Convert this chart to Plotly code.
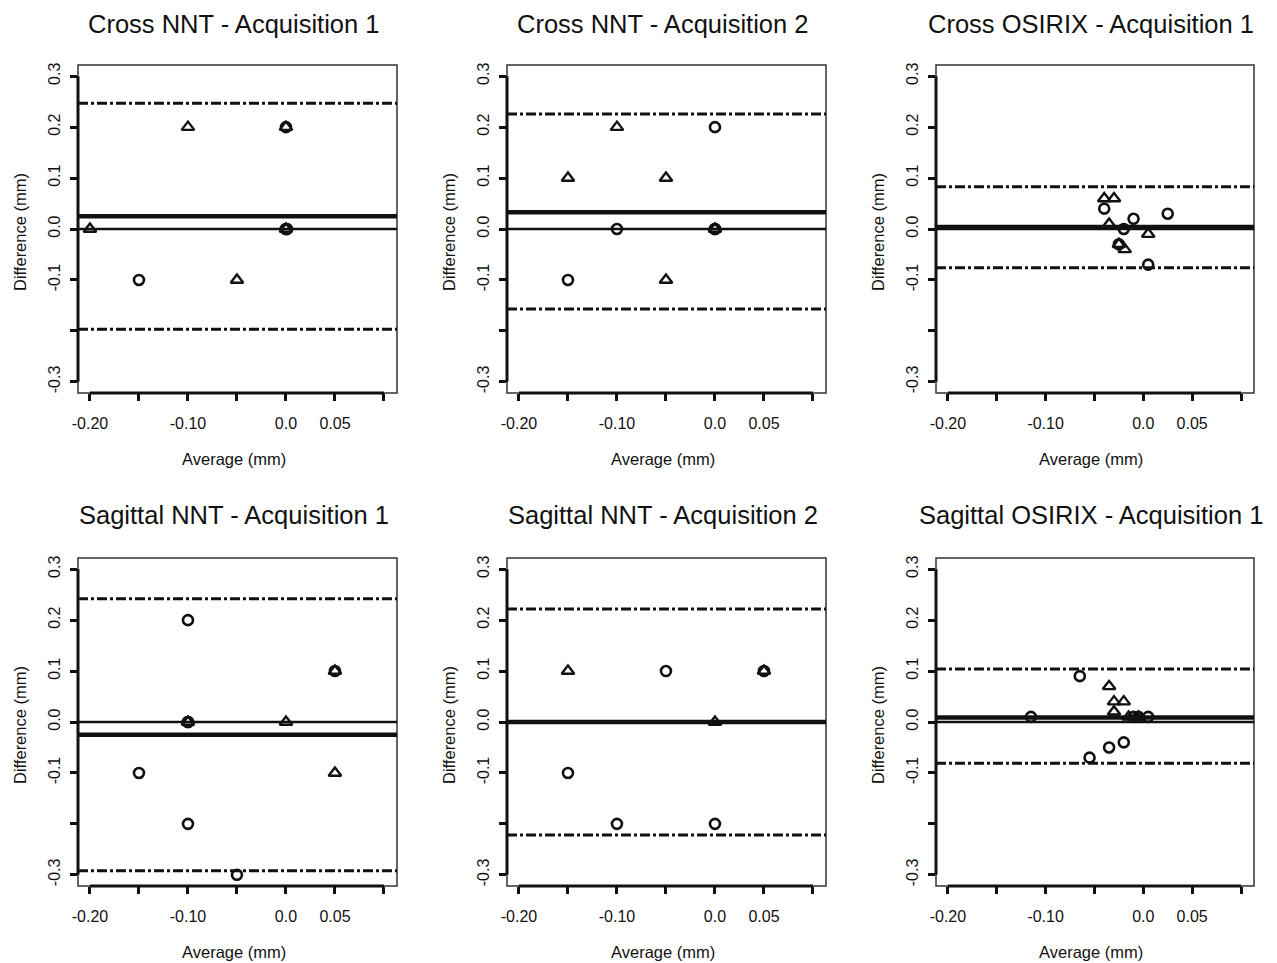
import plotly.graph_objects as go

# ---------------- data ----------------
titles = ["Cross NNT - Acquisition 1", "Cross NNT - Acquisition 2", "Cross OSIRIX - Acquisition 1",
          "Sagittal NNT - Acquisition 1", "Sagittal NNT - Acquisition 2", "Sagittal OSIRIX - Acquisition 1"]

x_tickvals = [-0.20, -0.15, -0.10, -0.05, 0.0, 0.05, 0.10]
x_ticktext = ["-0.20", "", "-0.10", "", "0.0", "0.05", ""]
y_tickvals = [0.3, 0.2, 0.1, 0.0, -0.1, -0.2, -0.3]
y_ticktext = ["0.3", "0.2", "0.1", "0.0", "-0.1", "", "-0.3"]

# circles (pch 1)
circ_x = [
    [0.0, -0.15, 0.0, 0.0, 0.001],
    [0.0, -0.10, 0.0, 0.0, -0.15],
    [-0.040, -0.020, -0.010, 0.025, -0.025, 0.005],
    [-0.10, 0.05, -0.10, -0.10, -0.15, -0.10, -0.05],
    [-0.05, 0.05, -0.15, -0.10, 0.0],
    [-0.065, -0.115, -0.010, -0.005, 0.005, -0.020, -0.035, -0.055],
]
circ_y = [
    [0.2, -0.1, 0.0, 0.0, 0.0],
    [0.2, 0.0, 0.0, 0.0, -0.1],
    [0.04, 0.0, 0.02, 0.03, -0.03, -0.07],
    [0.2, 0.1, 0.0, 0.0, -0.1, -0.2, -0.3],
    [0.1, 0.1, -0.1, -0.2, -0.2],
    [0.09, 0.01, 0.01, 0.01, 0.01, -0.04, -0.05, -0.07],
]
# triangles (pch 2)
tri_x = [
    [-0.10, 0.0, -0.20, 0.0, -0.05],
    [-0.10, -0.15, -0.05, 0.0, -0.05],
    [-0.040, -0.030, -0.035, 0.005, -0.025, -0.019],
    [0.05, -0.10, 0.0, 0.05],
    [-0.15, 0.05, 0.0],
    [-0.035, -0.030, -0.020, -0.030, -0.015, -0.005],
]
tri_y = [
    [0.2, 0.2, 0.0, 0.0, -0.1],
    [0.2, 0.1, 0.1, 0.0, -0.1],
    [0.06, 0.06, 0.01, -0.01, -0.03, -0.04],
    [0.1, 0.0, 0.0, -0.1],
    [0.1, 0.1, 0.0],
    [0.07, 0.04, 0.04, 0.02, 0.01, 0.01],
]
mean_diff = [0.025, 0.033, 0.004, -0.025, 0.0, 0.009]
upper_loa = [0.247, 0.226, 0.083, 0.242, 0.222, 0.104]
lower_loa = [-0.197, -0.157, -0.076, -0.292, -0.222, -0.081]

# ---------------- layout ----------------
OFF = 8  # page body margin of the html output
W, H = 1277 - OFF, 963 - OFF
col_px = [(78, 397), (507, 826), (936, 1254)]   # in screenshot pixels
row_px = [(65, 393), (558, 886)]
FONT = "Liberation Sans, Arial, Helvetica, sans-serif"


def px(v):
    return (v - OFF) / W


def py(v):
    return 1 - (v - OFF) / H


fig = go.Figure()
shapes = []
annotations = []

for i in range(6):
    r, c = divmod(i, 3)
    n = "" if i == 0 else str(i + 1)
    xa, ya = "x" + n, "y" + n
    x0p, x1p = col_px[c]
    t0p, b0p = row_px[r]
    xdom = [px(x0p), px(x1p)]
    ydom = [py(b0p), py(t0p)]

    axis_common = dict(showgrid=False, zeroline=False, showline=False, ticks="outside",
                       ticklen=7, tickwidth=2.5, tickcolor="#111", automargin=False,
                       tickfont=dict(family=FONT, size=16, color="#111"))
    fig.layout["xaxis" + n] = dict(domain=xdom, range=[-0.2122, 0.1133], anchor=ya,
                                   tickvals=x_tickvals, ticktext=x_ticktext,
                                   ticklabelstandoff=9, **axis_common)
    fig.layout["yaxis" + n] = dict(domain=ydom, range=[-0.322, 0.322], anchor=xa,
                                   tickvals=y_tickvals, ticktext=y_ticktext, tickangle=-90,
                                   ticklabelstandoff=4, **axis_common)

    # points
    fig.add_trace(go.Scatter(x=circ_x[i], y=circ_y[i], mode="markers", xaxis=xa, yaxis=ya,
                             marker=dict(symbol="circle-open", size=10, color="#111",
                                         line=dict(width=2.6, color="#111")),
                             showlegend=False, cliponaxis=False))
    fig.add_trace(go.Scatter(x=tri_x[i], y=tri_y[i], mode="markers", xaxis=xa, yaxis=ya,
                             marker=dict(symbol="triangle-up-open", size=11, color="#111",
                                         line=dict(width=2.4, color="#111")),
                             showlegend=False, cliponaxis=False))

    # box
    shapes.append(dict(type="rect", xref=xa + " domain", yref=ya + " domain", x0=0, x1=1, y0=0, y1=1,
                       line=dict(color="#333", width=1.5), layer="above"))
    # R-style axis lines spanning the tick range
    shapes.append(dict(type="line", xref=xa + " domain", yref=ya, x0=0, x1=0,
                       y0=y_tickvals[-1], y1=y_tickvals[0], line=dict(color="#111", width=3)))
    shapes.append(dict(type="line", xref=xa, yref=ya + " domain", x0=x_tickvals[0], x1=x_tickvals[-1],
                       y0=0, y1=0, line=dict(color="#111", width=3)))
    # zero line
    shapes.append(dict(type="line", xref=xa + " domain", yref=ya, x0=0, x1=1, y0=0, y1=0,
                       line=dict(color="#111", width=2.4)))
    # mean
    shapes.append(dict(type="line", xref=xa + " domain", yref=ya, x0=0, x1=1,
                       y0=mean_diff[i], y1=mean_diff[i], line=dict(color="#111", width=4.5)))
    # limits of agreement
    for v in (upper_loa[i], lower_loa[i]):
        shapes.append(dict(type="line", xref=xa + " domain", yref=ya, x0=0, x1=1, y0=v, y1=v,
                           line=dict(color="#111", width=3, dash="10px,3px,3px,3px")))

    # titles
    cx = (x0p + x1p) / 2 - 4
    annotations.append(dict(text=titles[i], x=px(cx), y=py(24 if r == 0 else 515),
                            xref="paper", yref="paper", showarrow=False, xanchor="center",
                            yanchor="middle", font=dict(family=FONT, size=25.5, color="#111")))
    annotations.append(dict(text="Average (mm)", x=px(cx), y=py(b0p + 66),
                            xref="paper", yref="paper", showarrow=False, xanchor="center",
                            yanchor="middle", font=dict(family=FONT, size=16.5, color="#111")))
    annotations.append(dict(text="Difference (mm)", x=px(x0p - 58), y=py((t0p + b0p) / 2 + 3),
                            xref="paper", yref="paper", showarrow=False, xanchor="center",
                            yanchor="middle", textangle=-90,
                            font=dict(family=FONT, size=16.5, color="#111")))

fig.update_layout(width=W, height=H, margin=dict(l=0, r=0, t=0, b=0, autoexpand=False),
                  paper_bgcolor="white", plot_bgcolor="white",
                  shapes=shapes, annotations=annotations, showlegend=False)

fig.write_html("out.html")
